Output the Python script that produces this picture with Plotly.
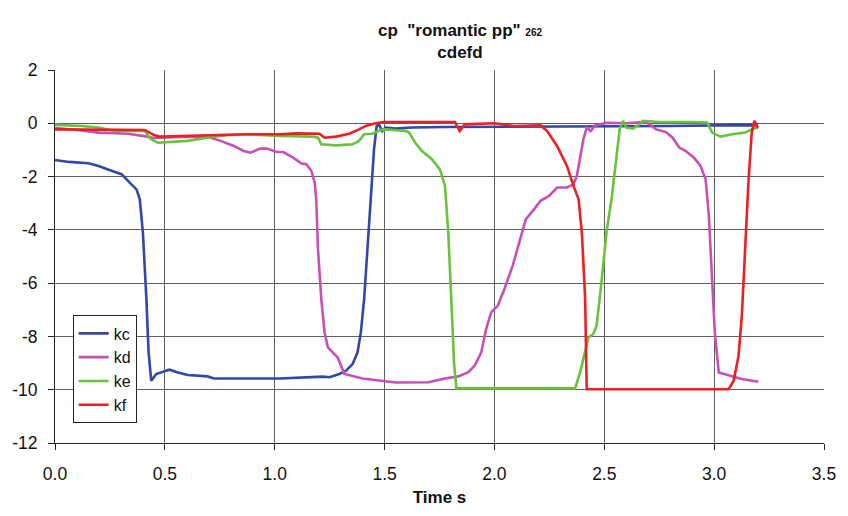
import plotly.graph_objects as go

# ---- data ----
kc_t = [0.0, 0.063, 0.153, 0.198, 0.273, 0.303, 0.34, 0.371, 0.386, 0.40, 0.416, 0.426, 0.438, 0.461, 0.49, 0.521,
        0.559, 0.604, 0.694, 0.724, 1.024, 1.174, 1.219, 1.25, 1.294, 1.324, 1.354, 1.377, 1.392, 1.407, 1.422,
        1.437, 1.452, 1.464, 1.474, 1.489, 1.505, 1.55, 1.625, 1.775, 2.0, 2.4, 2.8, 3.1, 3.2]
kc_v = [-1.38, -1.45, -1.5, -1.6, -1.83, -1.91, -2.23, -2.48, -2.85, -4.1, -6.6, -8.6, -9.66, -9.41, -9.33, -9.25,
        -9.35, -9.45, -9.5, -9.58, -9.58, -9.51, -9.51, -9.53, -9.41, -9.29, -9.04, -8.6, -7.85, -6.6, -4.73,
        -2.85, -0.98, -0.1, -0.04, -0.29, -0.16, -0.2, -0.16, -0.14, -0.13, -0.13, -0.1, -0.07, -0.08]

kd_t = [0.0, 0.1, 0.2, 0.333, 0.42, 0.45, 0.6, 0.709, 0.754, 0.814, 0.859, 0.889, 0.934, 0.964, 1.009, 1.039,
        1.084, 1.122, 1.144, 1.167, 1.182, 1.189, 1.197, 1.212, 1.227, 1.242, 1.264, 1.287, 1.302, 1.317, 1.399,
        1.474, 1.55, 1.70, 1.775, 1.835, 1.88, 1.91, 1.94, 1.962, 1.985, 2.015, 2.045, 2.083, 2.113, 2.143,
        2.18, 2.21, 2.248, 2.286, 2.33, 2.36, 2.375, 2.39, 2.405, 2.42, 2.438, 2.458, 2.51, 2.6, 2.69, 2.736,
        2.781, 2.811, 2.841, 2.871, 2.908, 2.938, 2.961, 2.976, 2.991, 3.003, 3.021, 3.081, 3.126, 3.201]
kd_v = [-0.18, -0.25, -0.35, -0.39, -0.5, -0.55, -0.5, -0.54, -0.66, -0.85, -1.04, -1.1, -0.95, -0.95, -1.08, -1.08,
        -1.29, -1.51, -1.54, -1.79, -2.23, -2.85, -4.73, -6.6, -7.85, -8.41, -8.6, -8.79, -9.1, -9.41, -9.58,
        -9.66, -9.73, -9.72, -9.58, -9.5, -9.35, -9.1, -8.6, -7.73, -7.1, -6.85, -6.23, -5.35, -4.48, -3.6,
        -3.23, -2.91, -2.73, -2.41, -2.41, -2.29, -1.98, -1.35, -0.6, -0.16, -0.29, -0.08, 0.02, 0.0, 0.05, -0.23,
        -0.33, -0.54, -0.91, -1.04, -1.29, -1.6, -2.1, -3.48, -5.98, -7.85, -9.35, -9.48, -9.6, -9.7]

ke_t = [0.0, 0.123, 0.198, 0.273, 0.408, 0.438, 0.468, 0.514, 0.604, 0.664, 0.724, 0.784, 0.874, 1.024, 1.174,
        1.197, 1.212, 1.279, 1.354, 1.384, 1.407, 1.444, 1.482, 1.505, 1.595, 1.61, 1.64, 1.67, 1.715, 1.752,
        1.775, 1.79, 1.805, 1.817, 1.827, 2.367, 2.39, 2.413, 2.428, 2.45, 2.465, 2.487, 2.51, 2.533, 2.555,
        2.57, 2.585, 2.6, 2.63, 2.653, 2.676, 2.751, 2.901, 2.968, 2.991, 3.029, 3.081, 3.141, 3.179, 3.201]
ke_v = [-0.06, -0.1, -0.16, -0.29, -0.29, -0.6, -0.73, -0.7, -0.66, -0.58, -0.5, -0.45, -0.41, -0.48, -0.5,
        -0.54, -0.79, -0.83, -0.79, -0.66, -0.41, -0.39, -0.25, -0.23, -0.29, -0.33, -0.73, -1.04, -1.35, -1.73,
        -2.35, -4.1, -7.23, -9.1, -9.95, -9.95, -9.35, -8.6, -8.04, -7.91, -7.6, -5.98, -4.1, -2.85, -1.35,
        -0.23, 0.09, -0.16, -0.2, -0.08, 0.09, 0.05, 0.05, 0.03, -0.35, -0.5, -0.41, -0.35, -0.2, -0.16]

kf_t = [0.0, 0.198, 0.408, 0.453, 0.476, 0.574, 0.724, 0.874, 1.024, 1.099, 1.204, 1.227, 1.279, 1.339, 1.384,
        1.414, 1.459, 1.497, 1.625, 1.82, 1.842, 1.865, 2.0, 2.09, 2.21, 2.24, 2.285, 2.33, 2.36, 2.383, 2.398,
        2.413, 2.42, 3.066, 3.089, 3.111, 3.126, 3.141, 3.156, 3.171, 3.183, 3.194, 3.2]
kf_v = [-0.23, -0.25, -0.25, -0.45, -0.5, -0.48, -0.45, -0.41, -0.41, -0.38, -0.39, -0.54, -0.5, -0.39, -0.23,
        -0.1, 0.0, 0.05, 0.05, 0.05, -0.29, -0.04, 0.0, -0.1, -0.08, -0.29, -0.85, -1.6, -2.35, -2.85, -4.1,
        -6.6, -9.98, -9.98, -9.66, -8.73, -7.23, -4.73, -2.23, -0.35, 0.09, -0.1, -0.16]

series_names = ["kc", "kd", "ke", "kf"]
series_colors = ["#3347a8", "#c64fb8", "#66c43a", "#f01d23"]

x_tick_vals = [0.0, 0.5, 1.0, 1.5, 2.0, 2.5, 3.0, 3.5]
x_tick_text = ["0.0", "0.5", "1.0", "1.5", "2.0", "2.5", "3.0", "3.5"]
y_tick_vals = [2, 0, -2, -4, -6, -8, -10, -12]
y_tick_text = ["2", "0", "-2", "-4", "-6", "-8", "-10", "-12"]

FONT = "Liberation Sans, Arial, sans-serif"

fig = go.Figure()
for name, color, t, v in zip(series_names, series_colors,
                             [kc_t, kd_t, ke_t, kf_t], [kc_v, kd_v, ke_v, kf_v]):
    fig.add_trace(go.Scatter(x=t, y=v, mode="lines", name=name,
                             line=dict(color=color, width=2.6, shape="linear")))

fig.update_layout(
    width=848, height=516,
    margin=dict(l=55, r=15, t=70, b=72),
    paper_bgcolor="white", plot_bgcolor="white",
    font=dict(family=FONT, color="#111111", size=17),
    title=dict(
        text='cp&nbsp;&nbsp;"romantic pp" <span style="font-size:10px">262</span><br>cdefd',
        x=460 / 848, xanchor="center", xref="container",
        y=1 - 36 / 516, yanchor="top", yref="container",
        font=dict(family=FONT, size=17, color="#111111", weight="bold"),
    ),
    showlegend=True,
    legend=dict(
        x=0.023, y=0.342, xanchor="left", yanchor="top",
        bgcolor="white", bordercolor="#222222", borderwidth=1,
        font=dict(family=FONT, size=16, color="#111111"),
        tracegroupgap=0, itemwidth=30,
    ),
)

fig.update_xaxes(
    range=[0, 3.5], tickvals=x_tick_vals, ticktext=x_tick_text,
    showgrid=True, gridcolor="#606060", gridwidth=1,
    showline=True, linecolor="#222222", linewidth=1,
    ticks="outside", ticklen=6, tickcolor="#222222",
    zeroline=False, ticklabelstandoff=9,
    tickfont=dict(family=FONT, size=17.5, color="#111111"),
    title=dict(text="<b>Time s</b>", font=dict(family=FONT, size=17, color="#111111"), standoff=8),
)
fig.update_yaxes(
    range=[-12, 2], tickvals=y_tick_vals, ticktext=y_tick_text,
    showgrid=True, gridcolor="#606060", gridwidth=1,
    showline=True, linecolor="#222222", linewidth=1,
    ticks="outside", ticklen=6, tickcolor="#222222",
    zeroline=False, ticklabelstandoff=7,
    tickfont=dict(family=FONT, size=17.5, color="#111111"),
)

fig.write_html("out.html")
